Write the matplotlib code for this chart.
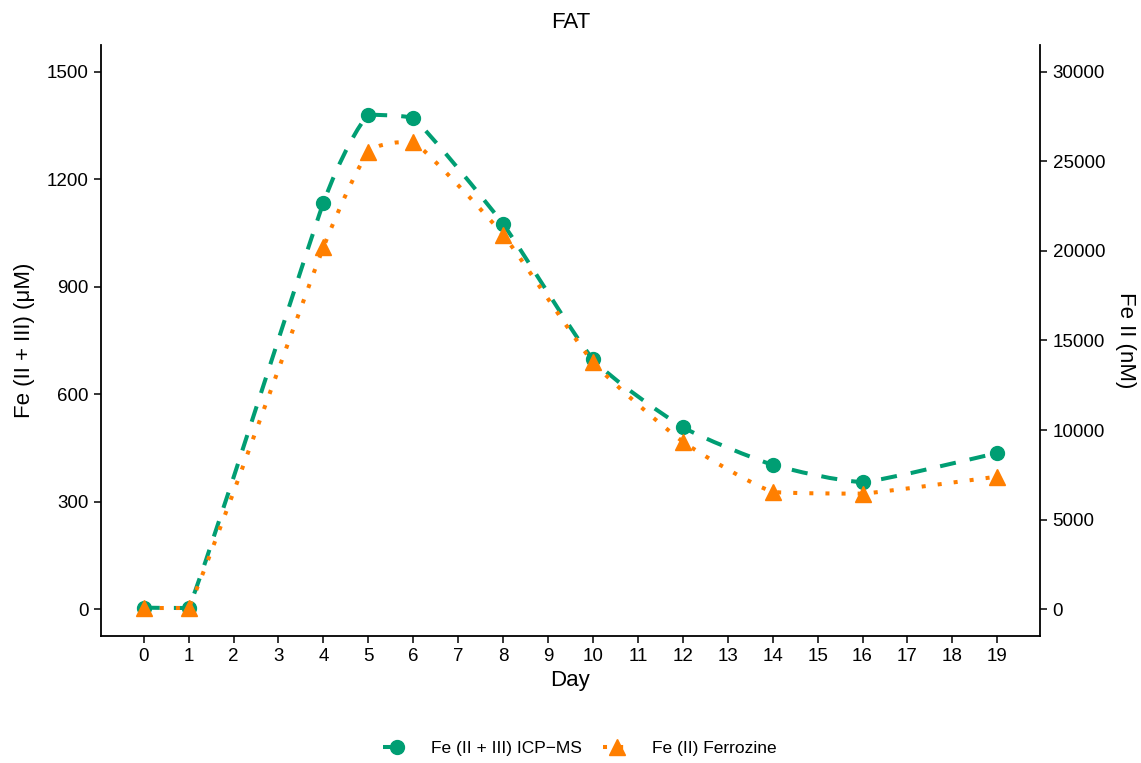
import matplotlib
matplotlib.use("Agg")
import matplotlib.pyplot as plt
import numpy as np
from matplotlib.path import Path
from matplotlib.patches import PathPatch
from matplotlib.lines import Line2D

plt.rcParams['font.family'] = ['Liberation Sans', 'DejaVu Sans']

days = [0, 1, 4, 5, 6, 8, 10, 12, 14, 16, 19]
icp_um = [4, 3, 1134, 1380, 1371, 1075, 698, 508, 403, 355, 436]
ferrozine_nm = [60, 60, 20200, 25500, 26100, 20900, 13800, 9350, 6550, 6450, 7400]
x_ticks = list(range(0, 20))
left_ticks = [0, 300, 600, 900, 1200, 1500]
right_ticks = [0, 5000, 10000, 15000, 20000, 25000, 30000]

GREEN = '#009E73'
ORANGE = '#FF7F00'
TENSION = 0.55


def smooth_path(xs, ys):
    xs = np.asarray(xs, float)
    ys = np.asarray(ys, float)
    n = len(xs)
    verts = [(xs[0], ys[0])]
    codes = [Path.MOVETO]
    k = TENSION / 6.0
    for i in range(n - 1):
        p0 = i - 1 if i > 0 else i
        p3 = i + 2 if i + 2 < n else i + 1
        t1x = xs[i + 1] - xs[p0]
        t1y = ys[i + 1] - ys[p0]
        t2x = xs[p3] - xs[i]
        t2y = ys[p3] - ys[i]
        lo, hi = min(ys[i], ys[i + 1]), max(ys[i], ys[i + 1])
        c1 = (xs[i] + t1x * k, np.clip(ys[i] + t1y * k, lo, hi))
        c2 = (xs[i + 1] - t2x * k, np.clip(ys[i + 1] - t2y * k, lo, hi))
        verts += [c1, c2, (xs[i + 1], ys[i + 1])]
        codes += [Path.CURVE4, Path.CURVE4, Path.CURVE4]
    return Path(verts, codes)


fig = plt.figure(figsize=(11.41, 7.63), dpi=100)
ax = fig.add_axes([0.0885, 0.1665, 0.823, 0.7745])
ax2 = ax.twinx()

lw = 2.9
p1 = PathPatch(smooth_path(days, icp_um), fill=False, edgecolor=GREEN,
               linewidth=lw, linestyle=(0, (4, 3.5)), capstyle='butt', zorder=2)
ax.add_patch(p1)
ax.plot(days, icp_um, linestyle='none', marker='o', markersize=10,
        color=GREEN, zorder=3)

p2 = PathPatch(smooth_path(days, ferrozine_nm), fill=False, edgecolor=ORANGE,
               linewidth=lw, linestyle=(0, (1, 3)), capstyle='butt', zorder=2)
ax2.add_patch(p2)
ax2.plot(days, ferrozine_nm, linestyle='none', marker='^', markersize=12,
         color=ORANGE, zorder=3)

ax.set_xlim(-0.95, 19.95)
ax.set_ylim(-75, 1575)
ax2.set_ylim(-75 * 20, 1575 * 20)

ax.set_xticks(x_ticks)
ax.set_xticklabels([str(t) for t in x_ticks])
ax.set_yticks(left_ticks)
ax2.set_yticks(right_ticks)

for a in (ax, ax2):
    a.tick_params(axis='both', labelsize=13.5, length=5, width=1.1,
                  colors='black', pad=4)
    a.spines['top'].set_visible(False)
    for s in ['left', 'right', 'bottom']:
        a.spines[s].set_linewidth(1.3)
ax.spines['right'].set_visible(False)
ax2.spines['left'].set_visible(False)
ax2.spines['bottom'].set_visible(False)

ax.set_xlabel('Day', fontsize=16, labelpad=3)
ax.set_ylabel('Fe (II + III) (μM)', fontsize=16, labelpad=8)
ax2.set_ylabel('Fe II (nM)', fontsize=16, rotation=270, labelpad=22)
ax.set_title('FAT', fontsize=16, pad=12)

handles = [
    Line2D([0], [0], color=GREEN, linestyle=(0, (4, 3.5)), linewidth=lw,
           marker='o', markersize=10),
    Line2D([0], [0], color=ORANGE, linestyle=(0, (1, 3)), linewidth=lw,
           marker='^', markersize=12),
]
fig.legend(handles, ['Fe (II + III) ICP\u2212MS', 'Fe (II) Ferrozine'],
           loc='center', bbox_to_anchor=(0.508, 0.019), ncol=2, frameon=False,
           fontsize=12.5, handlelength=1.6, columnspacing=1.2,
           handletextpad=1.2)

fig.savefig('out.png', dpi=100)
